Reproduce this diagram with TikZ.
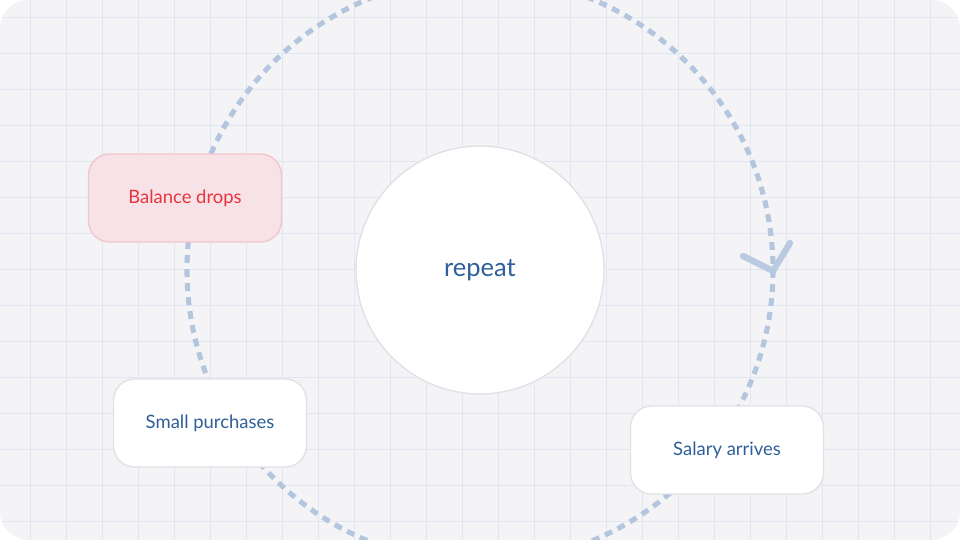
\documentclass[tikz,border=0pt]{standalone}
\usepackage{fontspec}
\setmainfont{Lato}
\usetikzlibrary{positioning}
\definecolor{paper}{HTML}{F4F4F7}
\definecolor{gridblue}{HTML}{E0E7F3}
\definecolor{loopblue}{HTML}{B4C6DE}
\definecolor{textblue}{HTML}{2F5F9A}
\definecolor{edgegray}{HTML}{E2E2E6}
\definecolor{warnfill}{HTML}{F7E3E7}
\definecolor{warnedge}{HTML}{F3C5CE}
\definecolor{warntext}{HTML}{E8343C}
\tikzset{
  card/.style={rectangle, rounded corners=12pt, minimum width=3.86cm, minimum height=1.76cm, text centered, draw=edgegray, line width=0.8pt, fill=white, text=textblue, font=\fontsize{10.5}{12}\selectfont},
  warncard/.style={card, fill=warnfill, draw=warnedge, text=warntext},
  hub/.style={circle, minimum size=4.96cm, draw=edgegray, line width=0.8pt, fill=white, text=textblue, font=\fontsize{14.5}{17}\selectfont},
  loop/.style={loopblue, line width=2.9pt, dash pattern=on 4.5pt off 3.5pt},
  tip/.style={loopblue, line width=3.6pt, line cap=round, opacity=0.9}
}
\begin{document}
\begin{tikzpicture}[x=0.02cm, y=-0.02cm]
  \fill[paper, rounded corners=16pt] (0,0) rectangle (960,540);
  \useasboundingbox (0,0) rectangle (960,540);
  % grid
  \begin{scope}
    \clip[rounded corners=16pt] (0,0) rectangle (960,540);
    \foreach \gx in {30,66,...,966} \draw[gridblue, line width=0.45pt] (\gx,0) -- (\gx,540);
    \foreach \gy in {17,53,...,540} \draw[gridblue, line width=0.45pt] (0,\gy) -- (960,\gy);
    % cycle
    \draw[loop] (480,270) circle[radius=293];
  \end{scope}
  \coordinate (tipend) at (773,271);
  \draw[tip] (743,256) -- (tipend) -- (790,243);
  % nodes
  \node (hub) [hub] at (480,270) {repeat};
  \node (drops) [warncard] at (185,198) {Balance drops};
  \node (small) [card] at (210,423) {Small purchases};
  \node (salary) [card] at (727,450) {Salary arrives};
\end{tikzpicture}
\end{document}
